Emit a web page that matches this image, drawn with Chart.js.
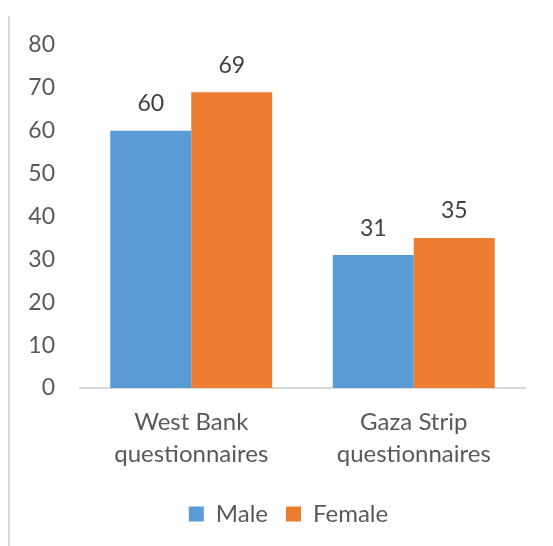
<!DOCTYPE html>
<html>
<head>
<meta charset="utf-8">
<script src="https://cdn.jsdelivr.net/npm/chart.js@4/dist/chart.umd.min.js"></script>
<style>
  html, body { margin: 0; padding: 0; background: #fff; }
  #wrap { position: relative; width: 553px; height: 546px; }
  #wrap::before {
    content: ""; position: absolute; left: 8px; top: 16px; bottom: 0;
    width: 2px; background: #d9d9d9;
  }
  canvas { position: absolute; left: 0; top: 0; }
</style>
</head>
<body>
<div id="wrap"><canvas id="c" width="553" height="546"></canvas></div>
<script>
const categories = [["West Bank", "questionnaires"], ["Gaza Strip", "questionnaires"]];
const maleValues = [60, 31];
const femaleValues = [69, 35];
const yTicks = [0, 10, 20, 30, 40, 50, 60, 70, 80];

const FONT = "Lato, 'Open Sans', sans-serif";

// value above each bar
const valueLabels = {
  id: 'valueLabels',
  afterDatasetsDraw(chart) {
    const ctx = chart.ctx;
    ctx.save();
    ctx.font = "23px " + FONT;
    ctx.fillStyle = '#404040';
    ctx.textAlign = 'center';
    ctx.textBaseline = 'middle';
    chart.data.datasets.forEach((ds, i) => {
      chart.getDatasetMeta(i).data.forEach((bar, j) => {
        ctx.fillText(String(ds.data[j]), bar.x, bar.y - 27);
      });
    });
    ctx.restore();
  }
};

// center the legend under the plot area rather than the whole canvas
const legendShift = {
  id: 'legendShift',
  afterLayout(chart) {
    const lg = chart.legend;
    const area = chart.chartArea;
    const dx = (area.left + area.right) / 2 - (lg.left + lg.right) / 2 - 14;
    lg.left += dx;
    lg.right += dx;
  }
};

new Chart(document.getElementById('c'), {
  type: 'bar',
  data: {
    labels: categories,
    datasets: [
      { label: 'Male', data: maleValues, backgroundColor: '#5b9bd5', borderWidth: 0 },
      { label: 'Female', data: femaleValues, backgroundColor: '#ed7d31', borderWidth: 0 }
    ]
  },
  options: {
    responsive: false,
    animation: false,
    layout: { padding: { left: 0, right: 28, top: 45, bottom: 10 } },
    datasets: { bar: { categoryPercentage: 0.728, barPercentage: 1.0 } },
    plugins: {
      legend: {
        position: 'bottom',
        labels: {
          boxWidth: 15, boxHeight: 15, padding: 18,
          color: '#595959',
          font: { family: FONT, size: 24 },
          generateLabels(chart) {
            const items = Chart.defaults.plugins.legend.labels.generateLabels(chart);
            items.forEach(it => { it.lineWidth = 0; });
            return items;
          }
        }
      },
      tooltip: { enabled: false }
    },
    scales: {
      x: {
        grid: { display: false, drawTicks: false },
        border: { display: true, color: '#d9d9d9', width: 2 },
        ticks: { color: '#595959', padding: 18, font: { family: FONT, size: 24, lineHeight: 1.35 } },
        afterFit(scale) { scale.height = 96; }
      },
      y: {
        min: 0, max: 80,
        grid: { display: false, drawTicks: false },
        border: { display: false },
        afterBuildTicks(scale) { scale.ticks = yTicks.map(v => ({ value: v })); },
        ticks: { color: '#595959', padding: 25, font: { family: FONT, size: 23 } },
        afterFit(scale) { scale.width = 80; }
      }
    }
  },
  plugins: [valueLabels, legendShift]
});
</script>
</body>
</html>
